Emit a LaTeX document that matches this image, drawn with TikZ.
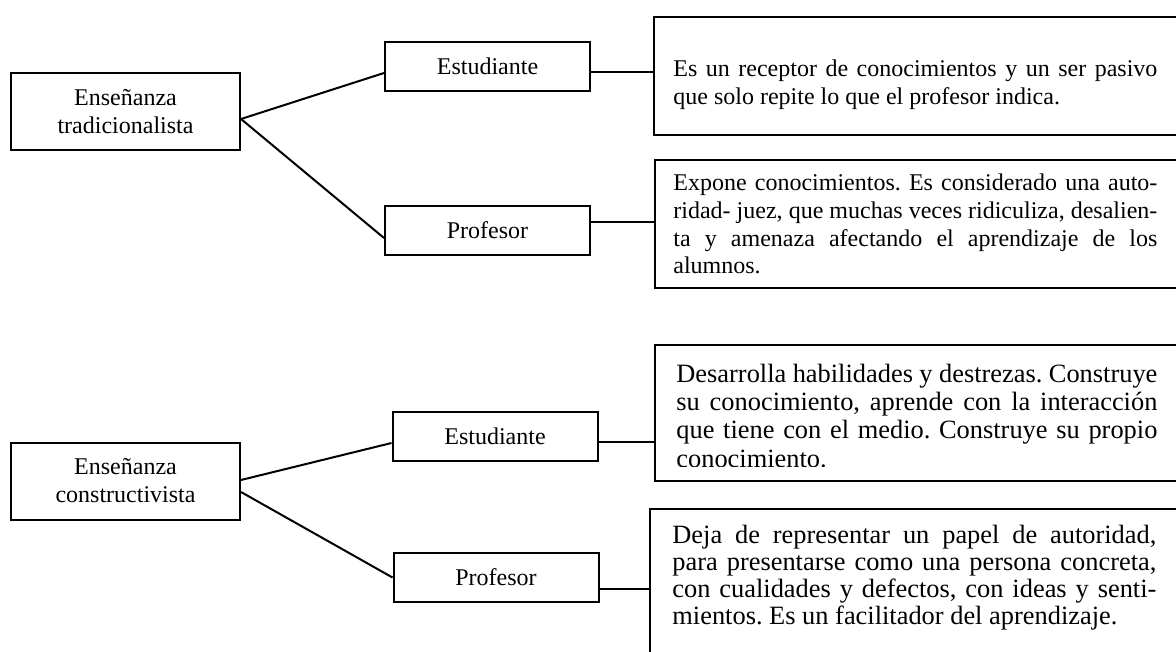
\documentclass[tikz,border=0pt]{standalone}
\usepackage{fontspec}
\setmainfont{Liberation Serif}
\usetikzlibrary{calc}
\tolerance=10000
\hyphenpenalty=10000
\exhyphenpenalty=10000
\frenchspacing

\begin{document}
\begin{tikzpicture}[
        x=0.5pt, y=-0.5pt, % Un pixel de la imagen = medio punto (y hacia abajo)
        font=\fontsize{12}{14}\selectfont, % Tamaño de la fuente para las etiquetas
        rama/.style={line width=1pt}, % Estilo para las líneas de unión
        ensenanza/.style={draw, line width=1pt, minimum width=114.5pt, minimum height=38.5pt, align=center, inner sep=0pt}, % Cuadro de la izquierda
        actor/.style={draw, line width=1pt, minimum width=102.5pt, minimum height=24.5pt, inner sep=0pt}, % Estudiante / Profesor
        cuadro/.style={draw, line width=1.2pt, anchor=north west, minimum width=268.5pt, inner sep=0pt}, % Cuadro de descripción
        texto/.style={anchor=base west, inner sep=0pt, text width=242pt, align=justify} % Texto de la descripción
    ]
        \useasboundingbox (0,0) rectangle (1176,652);
        \clip (0,0) rectangle (1176,652);

        % --- Enseñanza tradicionalista ---
        \node[ensenanza] (tradA) at (125.5,111.5) {Enseñanza\\tradicionalista};
        \node[actor] (estA) at (487.5,66.5) {Estudiante};
        \node[actor] (profA) at (487.5,230.5) {Profesor};

        \node[cuadro, minimum height=59pt] (descA) at (653,16) {};
        \node[cuadro, minimum height=64pt] (descB) at (654,159) {};

        \node[texto] (txtA) at (673,77) {Es un receptor de conocimientos y un ser pasivo \linebreak que solo repite lo que el profesor indica.};
        \node[texto, font=\fontsize{12}{13.8}\selectfont] (txtB) at (673,191) {Expone conocimientos. Es considerado una auto-\linebreak ridad- juez, que muchas veces ridiculiza, desalien-\linebreak ta y amenaza afectando el aprendizaje de los \linebreak alumnos.};

        % Líneas de unión
        \draw[rama] ($(tradA.east)+(0,7.5)$) -- ($(estA.west)+(0,6.5)$);
        \draw[rama] ($(tradA.east)+(0,7.5)$) -- ($(profA.west)+(0,7.5)$);
        \draw[rama] ($(estA.east)+(0,5.5)$) coordinate (eA) -- (eA -| descA.west);
        \draw[rama] ($(profA.east)+(0,-8.5)$) coordinate (pA) -- (pA -| descB.west);

        % --- Enseñanza constructivista ---
        \node[ensenanza] (tradB) at (125.5,481) {Enseñanza\\constructivista};
        \node[actor] (estB) at (495,436.5) {Estudiante};
        \node[actor] (profB) at (496,577.5) {Profesor};

        \node[cuadro, minimum height=68pt] (descC) at (654,344) {};
        \node[cuadro, minimum height=96pt] (descD) at (649,508) {};

        % El último renglón queda cortado por el borde del cuadro
        \begin{scope}
            \clip (descC.north west) rectangle ($(descC.south east)+(0,-16)$);
            \node[texto, text width=240.5pt, font=\fontsize{13.2}{14.2}\selectfont] (txtC) at (676,382) {Desarrolla habilidades y destrezas. Construye \linebreak su conocimiento, aprende con la interacción \linebreak que tiene con el medio. Construye su propio \linebreak conocimiento.};
        \end{scope}
        \node[texto, font=\fontsize{13.2}{13.5}\selectfont] (txtD) at (672,543) {Deja de representar un papel de autoridad, \linebreak para presentarse como una persona concreta, \linebreak con cualidades y defectos, con ideas y senti-\linebreak mientos. Es un facilitador del aprendizaje.};

        % Líneas de unión
        \draw[rama] ($(tradB.east)+(0,-1)$) -- ($(estB.west)+(0,6.5)$);
        \draw[rama] ($(tradB.east)+(0,11)$) -- (profB.west);
        \draw[rama] ($(estB.east)+(0,5.5)$) coordinate (eB) -- (eB -| descC.west);
        \draw[rama] ($(profB.east)+(0,11.5)$) coordinate (pB) -- (pB -| descD.west);

    \end{tikzpicture}
\end{document}
